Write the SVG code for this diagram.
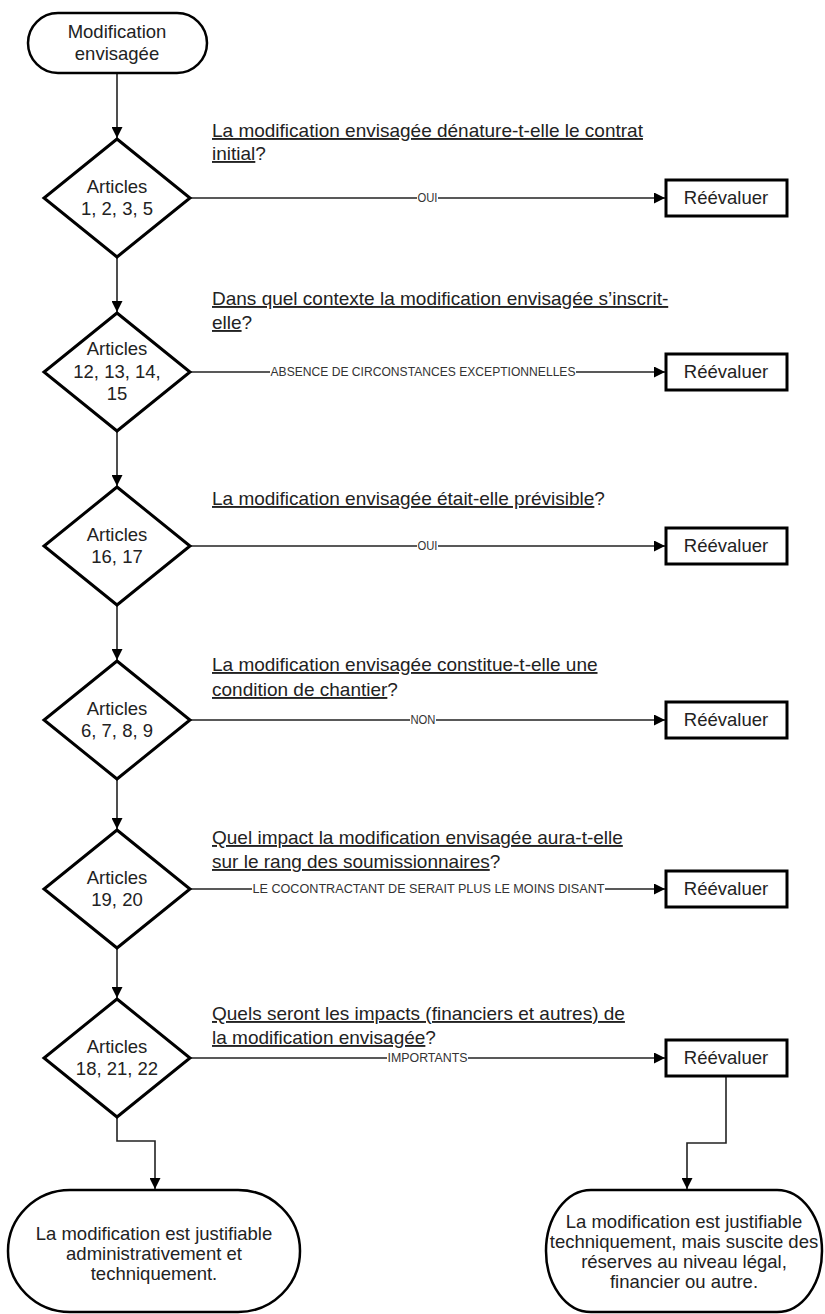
<svg xmlns="http://www.w3.org/2000/svg" width="825" height="1314" viewBox="0 0 825 1314">
<style>
  .shape{fill:#fff;stroke:#000;stroke-width:3}
  .term{fill:#fff;stroke:#000;stroke-width:2.5}
  .t{font-family:"Liberation Sans",Arial,sans-serif;font-size:18.5px;fill:#222;text-anchor:middle}
  .q{font-family:"Liberation Sans",Arial,sans-serif;font-size:19px;fill:#222}
  .u{text-decoration:underline}
  .conn{fill:none;stroke:#222;stroke-width:1.6}
  .lbl{font-family:"Liberation Sans",Arial,sans-serif;font-size:12px;fill:#333;text-anchor:middle}
  .lb{fill:#fff}
</style>
<defs>
  <marker id="ah" viewBox="0 0 10 10" refX="10" refY="5" markerWidth="11" markerHeight="11" markerUnits="userSpaceOnUse" orient="auto">
    <path d="M0,0 L10,5 L0,10 z" fill="#000"/>
  </marker>
</defs>

<g id="connectors">
  <path class="conn" d="M117,73 V138" marker-end="url(#ah)"/>
  <path class="conn" d="M117,257 V312" marker-end="url(#ah)"/>
  <path class="conn" d="M117,431 V486" marker-end="url(#ah)"/>
  <path class="conn" d="M117,605 V660" marker-end="url(#ah)"/>
  <path class="conn" d="M117,779 V829" marker-end="url(#ah)"/>
  <path class="conn" d="M117,948 V998" marker-end="url(#ah)"/>
  <path class="conn" d="M117,1117 V1141 H155 V1189" marker-end="url(#ah)"/>
  <path class="conn" d="M726,1076 V1143 H687 V1189" marker-end="url(#ah)"/>

  <path class="conn" d="M190,198 H665" marker-end="url(#ah)"/>
  <path class="conn" d="M190,372 H665" marker-end="url(#ah)"/>
  <path class="conn" d="M190,546 H665" marker-end="url(#ah)"/>
  <path class="conn" d="M190,720 H665" marker-end="url(#ah)"/>
  <path class="conn" d="M190,889 H665" marker-end="url(#ah)"/>
  <path class="conn" d="M190,1058 H665" marker-end="url(#ah)"/>

  <rect class="lb" x="417" y="191" width="21" height="14"/>
  <text class="lbl" x="427.5" y="202" textLength="20" lengthAdjust="spacingAndGlyphs">OUI</text>
  <rect class="lb" x="270" y="365" width="306" height="14"/>
  <text class="lbl" x="423" y="376" textLength="305" lengthAdjust="spacingAndGlyphs">ABSENCE DE CIRCONSTANCES EXCEPTIONNELLES</text>
  <rect class="lb" x="417" y="539" width="21" height="14"/>
  <text class="lbl" x="427.5" y="550" textLength="20" lengthAdjust="spacingAndGlyphs">OUI</text>
  <rect class="lb" x="410" y="713" width="26" height="14"/>
  <text class="lbl" x="423" y="724" textLength="25" lengthAdjust="spacingAndGlyphs">NON</text>
  <rect class="lb" x="252" y="882" width="353" height="14"/>
  <text class="lbl" x="428.5" y="893" textLength="352" lengthAdjust="spacingAndGlyphs">LE COCONTRACTANT DE SERAIT PLUS LE MOINS DISANT</text>
  <rect class="lb" x="387" y="1051" width="81" height="14"/>
  <text class="lbl" x="427.5" y="1062" textLength="80" lengthAdjust="spacingAndGlyphs">IMPORTANTS</text>
</g>

<g id="start">
  <rect class="term" x="28" y="13" width="179" height="60" rx="30" ry="30"/>
  <text class="t" x="117" y="38">Modification</text>
  <text class="t" x="117" y="60">envisagée</text>
</g>

<g id="d1">
  <path class="shape" d="M117,139 L190,198 L117,257 L44,198 Z"/>
  <text class="t" x="117" y="193">Articles</text>
  <text class="t" x="117" y="215">1, 2, 3, 5</text>
</g>
<g id="q1">
  <text class="q" x="212" y="137"><tspan class="u">La modification envisagée dénature-t-elle le contrat</tspan></text>
  <text class="q" x="212" y="160"><tspan class="u">initial</tspan>?</text>
</g>
<g id="r1">
  <rect class="shape" x="666" y="180" width="121" height="36"/>
  <text class="t" x="726" y="204">Réévaluer</text>
</g>

<g id="d2">
  <path class="shape" d="M117,313 L190,372 L117,431 L44,372 Z"/>
  <text class="t" x="117" y="355">Articles</text>
  <text class="t" x="117" y="378">12, 13, 14,</text>
  <text class="t" x="117" y="400">15</text>
</g>
<g id="q2">
  <text class="q" x="212" y="305"><tspan class="u">Dans quel contexte la modification envisagée s’inscrit-</tspan></text>
  <text class="q" x="212" y="329"><tspan class="u">elle</tspan>?</text>
</g>
<g id="r2">
  <rect class="shape" x="666" y="354" width="121" height="36"/>
  <text class="t" x="726" y="378">Réévaluer</text>
</g>

<g id="d3">
  <path class="shape" d="M117,487 L190,546 L117,605 L44,546 Z"/>
  <text class="t" x="117" y="541">Articles</text>
  <text class="t" x="117" y="563">16, 17</text>
</g>
<g id="q3">
  <text class="q" x="212" y="505"><tspan class="u">La modification envisagée était-elle prévisible</tspan>?</text>
</g>
<g id="r3">
  <rect class="shape" x="666" y="528" width="121" height="36"/>
  <text class="t" x="726" y="552">Réévaluer</text>
</g>

<g id="d4">
  <path class="shape" d="M117,661 L190,720 L117,779 L44,720 Z"/>
  <text class="t" x="117" y="715">Articles</text>
  <text class="t" x="117" y="737">6, 7, 8, 9</text>
</g>
<g id="q4">
  <text class="q" x="212" y="671"><tspan class="u">La modification envisagée constitue-t-elle une</tspan></text>
  <text class="q" x="212" y="696"><tspan class="u">condition de chantier</tspan>?</text>
</g>
<g id="r4">
  <rect class="shape" x="666" y="702" width="121" height="36"/>
  <text class="t" x="726" y="726">Réévaluer</text>
</g>

<g id="d5">
  <path class="shape" d="M117,830 L190,889 L117,948 L44,889 Z"/>
  <text class="t" x="117" y="884">Articles</text>
  <text class="t" x="117" y="906">19, 20</text>
</g>
<g id="q5">
  <text class="q" x="212" y="844"><tspan class="u">Quel impact la modification envisagée aura-t-elle</tspan></text>
  <text class="q" x="212" y="868"><tspan class="u">sur le rang des soumissionnaires</tspan>?</text>
</g>
<g id="r5">
  <rect class="shape" x="666" y="871" width="121" height="36"/>
  <text class="t" x="726" y="895">Réévaluer</text>
</g>

<g id="d6">
  <path class="shape" d="M117,999 L190,1058 L117,1117 L44,1058 Z"/>
  <text class="t" x="117" y="1053">Articles</text>
  <text class="t" x="117" y="1075">18, 21, 22</text>
</g>
<g id="q6">
  <text class="q" x="212" y="1020"><tspan class="u">Quels seront les impacts (financiers et autres) de</tspan></text>
  <text class="q" x="212" y="1044"><tspan class="u">la modification envisagée</tspan>?</text>
</g>
<g id="r6">
  <rect class="shape" x="666" y="1040" width="121" height="36"/>
  <text class="t" x="726" y="1064">Réévaluer</text>
</g>

<g id="end1">
  <rect class="term" x="8" y="1190" width="292" height="122" rx="62" ry="61"/>
  <text class="t" x="154" y="1240">La modification est justifiable</text>
  <text class="t" x="154" y="1260">administrativement et</text>
  <text class="t" x="154" y="1280">techniquement.</text>
</g>
<g id="end2">
  <rect class="term" x="546" y="1190" width="276" height="122" rx="45" ry="61"/>
  <text class="t" x="684" y="1228">La modification est justifiable</text>
  <text class="t" x="684" y="1248">techniquement, mais suscite des</text>
  <text class="t" x="684" y="1268">réserves au niveau légal,</text>
  <text class="t" x="684" y="1288">financier ou autre.</text>
</g>
</svg>
